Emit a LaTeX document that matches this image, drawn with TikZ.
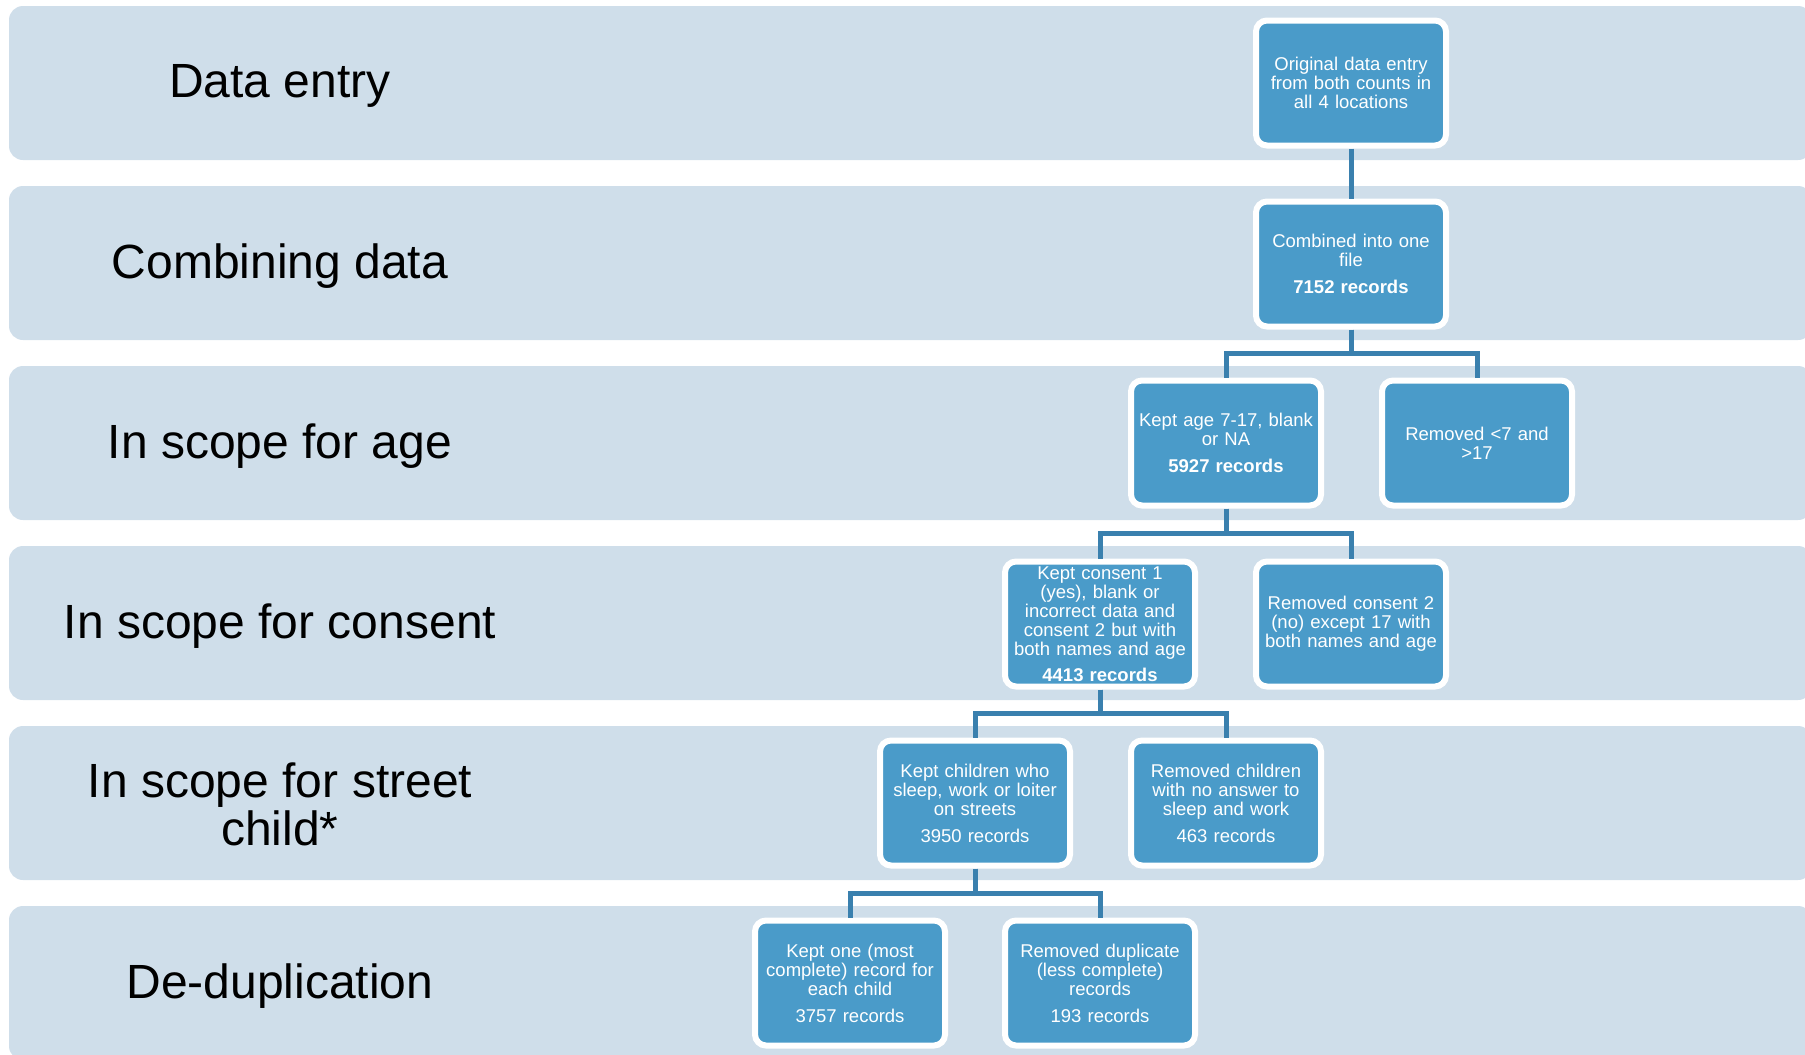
\documentclass[tikz,border=0pt]{standalone}
\usepackage{fontspec}
\setmainfont{Liberation Sans}
\usetikzlibrary{calc}

\definecolor{bandbg}{RGB}{207,222,234}
\definecolor{boxfill}{RGB}{74,155,201}
\definecolor{linkblue}{RGB}{58,128,174}

\tikzset{
  band/.style={fill=bandbg, rounded corners=14pt},
  stage/.style={font=\fontsize{48}{48}\selectfont, align=center, text=black},
  stepbox/.style={draw=white, line width=6pt, fill=boxfill, rounded corners=11pt,
    minimum width=190pt, minimum height=125pt, text width=188pt, align=center,
    text=white, font=\fontsize{18.5}{19}\selectfont, inner sep=0pt},
  link/.style={draw=linkblue, line width=5pt}
}

% elbow connector: down from parent, across at half height, down into child
\newcommand{\linkboxes}[2]{%
  \draw[link] (#1.south) |- ($(#1.south)!0.5!(#2.north)$) -| (#2.north);}

\begin{document}
\begin{tikzpicture}[x=1pt, y=-1pt]
  \useasboundingbox (0,0) rectangle (1805,1055);
  \clip (0,0) rectangle (1805,1055);

  % stage bands
  \foreach \t in {6,186,366,546,726,906}
    \path[band] (9,\t) rectangle (1812,\t+154);

  % stage titles
  \node[stage] (s1) at (280,86) {Data entry};
  \node[stage] (s2) at (280,266) {Combining data};
  \node[stage] (s3) at (280,446) {In scope for age};
  \node[stage] (s4) at (280,626) {In scope for consent};
  \node[stage] (s5) at (280,804) {In scope for street\\child*};
  \node[stage] (s6) at (280,986) {De-duplication};

  % process boxes
  \node[stepbox] (orig) at (1351,83) {Original data entry\\from both counts in\\all 4 locations};
  \node[stepbox] (comb) at (1351,264) {Combined into one\\file\\[8pt]\textbf{7152 records}};
  \node[stepbox] (agek) at (1226,443) {Kept age 7-17, blank\\or NA\\[8pt]\textbf{5927 records}};
  \node[stepbox] (ager) at (1477,443) {Removed <7 and\\>17};
  \node[stepbox] (conk) at (1100,624) {Kept consent 1\\(yes), blank or\\incorrect data and\\consent 2 but with\\both names and age\\[7pt]\textbf{4413 records}};
  \node[stepbox] (conr) at (1351,624) {Removed consent 2\\(no) except 17 with\\both names and age};
  \node[stepbox] (strk) at (975,803) {Kept children who\\sleep, work or loiter\\on streets\\[8pt]3950 records};
  \node[stepbox] (strr) at (1226,803) {Removed children\\with no answer to\\sleep and work\\[8pt]463 records};
  \node[stepbox] (dupk) at (850,983) {Kept one (most\\complete) record for\\each child\\[8pt]3757 records};
  \node[stepbox] (dupr) at (1100,983) {Removed duplicate\\(less complete)\\records\\[8pt]193 records};

  % connectors
  \draw[link] (orig.south) -- (comb.north);
  \linkboxes{comb}{agek}
  \linkboxes{comb}{ager}
  \linkboxes{agek}{conk}
  \linkboxes{agek}{conr}
  \linkboxes{conk}{strk}
  \linkboxes{conk}{strr}
  \linkboxes{strk}{dupk}
  \linkboxes{strk}{dupr}
\end{tikzpicture}
\end{document}
